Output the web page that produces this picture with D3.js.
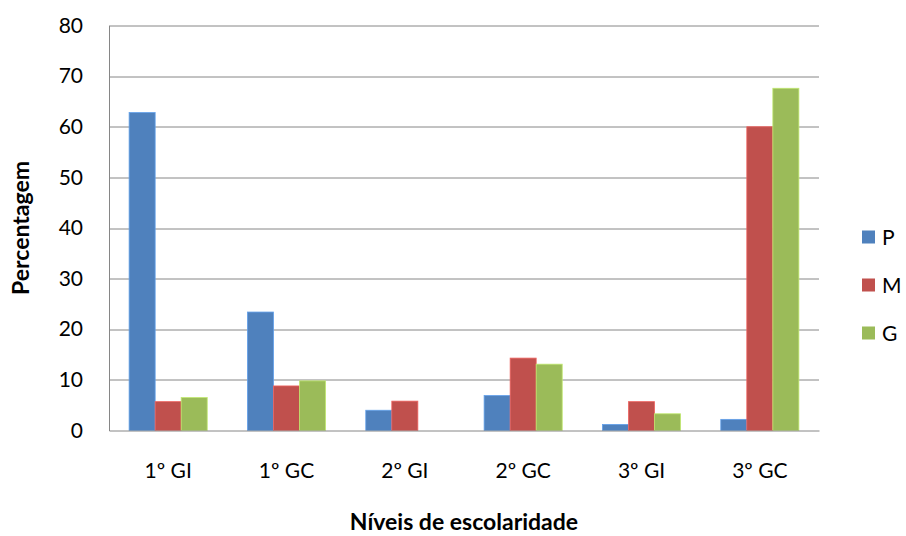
<!DOCTYPE html>
<html>
<head>
<meta charset="utf-8">
<script src="https://cdn.jsdelivr.net/npm/d3@7"></script>
<style>
  body { margin: 0; background: #fff; }
  text { font-family: Lato, "Open Sans", sans-serif; fill: #000; }
</style>
</head>
<body>
<div id="chart"></div>
<script>
// data
const categories = ["1º GI", "1º GC", "2º GI", "2º GC", "3º GI", "3º GC"];
const seriesNames = ["P", "M", "G"];
const valuesP = [62.8, 23.4, 4.0, 6.9, 1.2, 2.2];
const valuesM = [5.7, 8.8, 5.8, 14.3, 5.7, 60.0];
const valuesG = [6.5, 9.8, 0, 13.1, 3.3, 67.6];
const yTicks = [0, 10, 20, 30, 40, 50, 60, 70, 80];
const colors = ["#4F81BD", "#C0504D", "#9BBB59"];

const width = 906, height = 536;
const margin = { top: 25.5, right: 87, bottom: 105.5, left: 109 };
const innerW = width - margin.left - margin.right;
const innerH = height - margin.top - margin.bottom;

const allSeries = [valuesP, valuesM, valuesG];

const svg = d3.select("#chart")
    .append("svg")
    .attr("width", width)
    .attr("height", height);

const chart = svg.append("g")
    .attr("transform", `translate(${margin.left}, ${margin.top})`);

const x = d3.scaleBand()
    .domain(categories)
    .range([0, innerW])
    .paddingInner(0.34)
    .paddingOuter(0.17);

const xs = d3.scaleBand()
    .domain(seriesNames)
    .range([0, x.bandwidth()]);

const y = d3.scaleLinear()
    .domain([0, 80])
    .range([innerH, 0]);

// gridlines
chart.selectAll(".grid")
    .data(yTicks.slice(1))
    .enter()
    .append("line")
    .attr("class", "grid")
    .attr("x1", 0)
    .attr("x2", innerW)
    .attr("y1", d => Math.round(y(d)) + 0.5)
    .attr("y2", d => Math.round(y(d)) + 0.5)
    .style("stroke", "#868686")
    .style("stroke-width", 1);

// bars
seriesNames.forEach((s, si) => {
    chart.selectAll(".bar-" + s)
        .data(allSeries[si])
        .enter()
        .append("rect")
        .attr("class", "bar-" + s)
        .attr("x", (d, i) => x(categories[i]) + xs(s))
        .attr("y", d => y(d))
        .attr("width", xs.bandwidth())
        .attr("height", d => innerH - y(d))
        .style("fill", colors[si])
        .style("stroke", d3.color(colors[si]).brighter(0.6))
        .style("stroke-width", d => d > 0 ? 0.8 : 0);
});

// y axis
const yAxis = chart.append("g")
    .call(d3.axisLeft(y).tickValues(yTicks).tickSize(0).tickPadding(26));
yAxis.select(".domain").style("stroke", "#868686");
yAxis.selectAll("text")
    .style("font-size", "21px")
    .style("font-family", "Lato, sans-serif")
    .style("fill", "#000");

// x axis
const xAxis = chart.append("g")
    .attr("transform", `translate(0, ${innerH})`)
    .call(d3.axisBottom(x).tickSize(0).tickPadding(33));
xAxis.select(".domain").style("stroke", "#868686");
xAxis.selectAll("text")
    .style("font-size", "21px")
    .style("font-family", "Lato, sans-serif")
    .style("fill", "#000");

// axis titles
svg.append("text")
    .attr("transform", `translate(29, ${margin.top + innerH / 2}) rotate(-90)`)
    .attr("text-anchor", "middle")
    .style("font-size", "23px")
    .style("font-weight", "bold")
    .text("Percentagem");

svg.append("text")
    .attr("x", margin.left + innerW / 2)
    .attr("y", 530)
    .attr("text-anchor", "middle")
    .style("font-size", "23px")
    .style("font-weight", "bold")
    .text("Níveis de escolaridade");

// legend
const legend = svg.append("g")
    .attr("transform", "translate(862, 237)");

const legendItem = legend.selectAll(".legend-item")
    .data(seriesNames)
    .enter()
    .append("g")
    .attr("class", "legend-item")
    .attr("transform", (d, i) => `translate(0, ${i * 48})`);

legendItem.append("rect")
    .attr("x", 0)
    .attr("y", -6.5)
    .attr("width", 13)
    .attr("height", 13)
    .style("fill", (d, i) => colors[i]);

legendItem.append("text")
    .attr("x", 20)
    .attr("y", 7.5)
    .style("font-size", "21px")
    .text(d => d);
</script>
</body>
</html>
